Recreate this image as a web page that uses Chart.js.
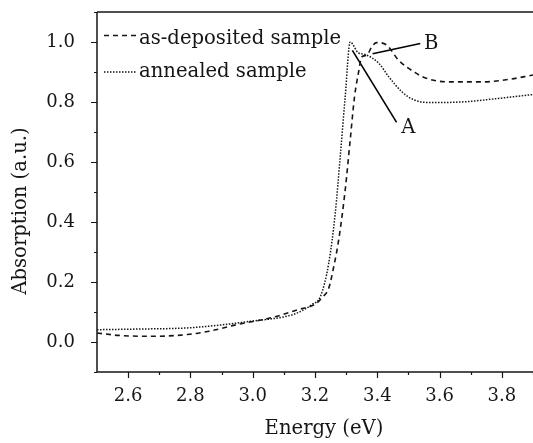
<!DOCTYPE html>
<html><head><meta charset="utf-8">
<script src="https://cdn.jsdelivr.net/npm/chart.js@4/dist/chart.umd.min.js"></script>
<style>html,body{margin:0;padding:0;background:#fff}#wrap{width:533px;height:443px}</style>
</head><body><div id="wrap"><canvas id="c" width="533" height="443"></canvas></div>
<script>
const xTicks = [2.6, 2.8, 3.0, 3.2, 3.4, 3.6, 3.8];
const yTicks = [0.0, 0.2, 0.4, 0.6, 0.8, 1.0];
const seriesNames = ['as-deposited sample', 'annealed sample'];
const depositedE = [2.50, 2.57, 2.68, 2.79, 2.86, 2.95, 3.06, 3.15, 3.20, 3.225, 3.244, 3.26, 3.276, 3.297, 3.313, 3.327, 3.34, 3.35, 3.366, 3.383, 3.398, 3.43, 3.468, 3.523, 3.555, 3.629, 3.735, 3.82, 3.90];
const depositedA = [0.030, 0.022, 0.019, 0.025, 0.036, 0.058, 0.081, 0.109, 0.126, 0.150, 0.179, 0.25, 0.34, 0.507, 0.673, 0.818, 0.90, 0.95, 0.956, 0.985, 0.998, 0.99, 0.94, 0.897, 0.88, 0.867, 0.867, 0.875, 0.89];
const annealedE = [2.50, 2.62, 2.79, 2.90, 3.00, 3.11, 3.15, 3.19, 3.217, 3.244, 3.265, 3.281, 3.297, 3.313, 3.338, 3.362, 3.405, 3.437, 3.479, 3.518, 3.576, 3.683, 3.789, 3.90];
const annealedA = [0.041, 0.043, 0.047, 0.057, 0.070, 0.086, 0.100, 0.125, 0.151, 0.262, 0.429, 0.618, 0.818, 1.0, 0.965, 0.958, 0.929, 0.884, 0.834, 0.807, 0.798, 0.801, 0.812, 0.825];
const pointerAE = [3.32, 3.462];
const pointerAA = [0.972, 0.732];
const pointerBE = [3.385, 3.538];
const pointerBA = [0.961, 0.995];
const markNames = ['A', 'B'];
const markE = [3.50, 3.573];
const markA = [0.715, 0.995];

const pts = (xs, ys) => xs.map((x, i) => ({x: x, y: ys[i]}));
const INK = '#161616';
const FONT = '"DejaVu Serif", serif';

const decor = {
  id: 'decor',
  afterDraw(chart) {
    const ctx = chart.ctx, a = chart.chartArea;
    const xs = chart.scales.x, ys = chart.scales.y;
    ctx.save();
    ctx.strokeStyle = INK; ctx.lineWidth = 1.5; ctx.setLineDash([]);
    ctx.beginPath();
    ctx.moveTo(a.left, a.top); ctx.lineTo(a.right, a.top);
    ctx.moveTo(a.left, a.top); ctx.lineTo(a.left, a.bottom);
    ctx.moveTo(a.left, a.bottom); ctx.lineTo(a.right, a.bottom);
    ctx.stroke();
    ctx.lineWidth = 1.2;
    ctx.beginPath();
    for (let v = 2.6; v < 3.95; v += 0.1) {
      const major = xTicks.some(t => Math.abs(t - v) < 1e-6);
      const px = Math.round(xs.getPixelForValue(v)) + 0.5;
      ctx.moveTo(px, a.bottom); ctx.lineTo(px, a.bottom + (major ? 6 : 3));
    }
    for (let v = -0.1; v < 1.15; v += 0.1) {
      const major = yTicks.some(t => Math.abs(t - v) < 1e-6);
      const py = Math.round(ys.getPixelForValue(v)) + 0.5;
      ctx.moveTo(a.left, py); ctx.lineTo(a.left - (major ? 6 : 3), py);
    }
    ctx.stroke();
    // legend
    ctx.fillStyle = INK;
    ctx.font = '19.6px ' + FONT;
    ctx.textBaseline = 'alphabetic'; ctx.textAlign = 'left';
    ctx.lineWidth = 1.5;
    ctx.setLineDash([5, 4]);
    ctx.beginPath(); ctx.moveTo(104, 35.5); ctx.lineTo(137, 35.5); ctx.stroke();
    ctx.setLineDash([1.5, 1.5]);
    ctx.beginPath(); ctx.moveTo(104, 72); ctx.lineTo(137, 72); ctx.stroke();
    ctx.setLineDash([]);
    ctx.fillText(seriesNames[0], 139, 44);
    ctx.fillText(seriesNames[1], 139, 77);
    // marks
    ctx.textAlign = 'center'; ctx.textBaseline = 'middle';
    markNames.forEach((n, i) => ctx.fillText(n, xs.getPixelForValue(markE[i]), ys.getPixelForValue(markA[i])));
    // axis titles
    ctx.fillText('Energy (eV)', 324, 429);
    ctx.translate(21, 211); ctx.rotate(-Math.PI / 2);
    ctx.fillText('Absorption (a.u.)', 0, 0);
    ctx.restore();
  }
};

new Chart(document.getElementById('c'), {
  type: 'line',
  data: {
    datasets: [
      {label: seriesNames[0], data: pts(depositedE, depositedA), borderColor: INK, borderWidth: 1.6, borderDash: [5, 4], pointRadius: 0, fill: false, cubicInterpolationMode: 'monotone'},
      {label: seriesNames[1], data: pts(annealedE, annealedA), borderColor: INK, borderWidth: 1.5, borderDash: [1.5, 1.5], pointRadius: 0, fill: false, cubicInterpolationMode: 'monotone'},
      {label: 'A', data: pts(pointerAE, pointerAA), borderColor: '#000', borderWidth: 1.6, pointRadius: 0, fill: false},
      {label: 'B', data: pts(pointerBE, pointerBA), borderColor: '#000', borderWidth: 1.6, pointRadius: 0, fill: false}
    ]
  },
  options: {
    responsive: false, animation: false, devicePixelRatio: 1,
    layout: {padding: {top: 12, right: 0, left: 0, bottom: 0}},
    plugins: {legend: {display: false}, tooltip: {enabled: false}},
    scales: {
      x: {
        type: 'linear', min: 2.5, max: 3.9,
        afterBuildTicks: s => { s.ticks = xTicks.map(v => ({value: v})); },
        afterFit: s => { s.height = 71; s.paddingLeft = 0; s.paddingRight = 0; },
        grid: {display: false, drawTicks: false},
        border: {display: false},
        ticks: {padding: 14, color: INK, font: {family: FONT, size: 18}, callback: v => v.toFixed(1), maxRotation: 0, autoSkip: false}
      },
      y: {
        type: 'linear', min: -0.1, max: 1.1,
        afterBuildTicks: s => { s.ticks = yTicks.map(v => ({value: v})); },
        afterFit: s => { s.width = 97; s.paddingTop = 0; s.paddingBottom = 0; },
        grid: {display: false, drawTicks: false},
        border: {display: false},
        ticks: {padding: 22, color: INK, font: {family: FONT, size: 18}, callback: v => v.toFixed(1), autoSkip: false}
      }
    }
  },
  plugins: [decor]
});
</script></body></html>
